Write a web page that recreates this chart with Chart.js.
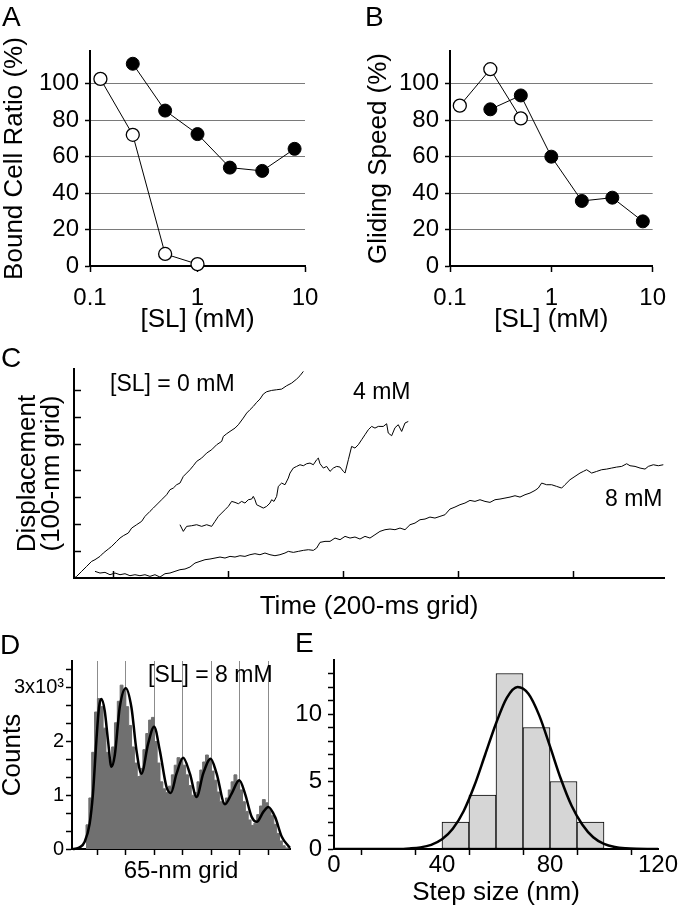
<!DOCTYPE html>
<html>
<head>
<meta charset="utf-8">
<script src="https://cdn.jsdelivr.net/npm/chart.js"></script>
<style>
body { margin: 0; background: #fff; }
#fig { position: relative; width: 680px; height: 913px; overflow: hidden; font-family: "Liberation Sans", Arial, sans-serif; }
#fig canvas { position: absolute; }
.lab { position: absolute; font-size: 28px; line-height: 28px; color: #000; }
</style>
</head>
<body>
<div id="fig">
  <canvas id="chartA" width="340" height="340" style="left:0;top:0"></canvas>
  <canvas id="chartB" width="340" height="340" style="left:340px;top:0"></canvas>
  <canvas id="chartC" width="680" height="280" style="left:0;top:340px"></canvas>
  <canvas id="chartD" width="300" height="293" style="left:0;top:620px"></canvas>
  <canvas id="chartE" width="390" height="293" style="left:290px;top:620px"></canvas>
  <div class="lab" style="left:2px;top:3px">A</div>
  <div class="lab" style="left:365px;top:3px">B</div>
  <div class="lab" style="left:1px;top:344px">C</div>
  <div class="lab" style="left:0;top:631px">D</div>
  <div class="lab" style="left:295px;top:629px">E</div>
</div>
<script>
// --- data ---

// A / B : [SL] in mM
var slOpen = [0.125, 0.25, 0.5, 1]
var boundOpen = [102.7, 72, 6.6, 1]
var slFull = [0.25, 0.5, 1, 2, 4, 8]
var boundFull = [111, 85.3, 72.4, 54, 52.2, 64.3]

var slOpenB = [0.125, 0.25, 0.5]
var speedOpen = [88, 108, 81]
var speedFull = [86, 93.6, 60, 35.7, 37.5, 24.5]

var doseTicks = [0.1, 1, 10]
var pctTicks = [0, 20, 40, 60, 80, 100]

// C : traces, time in ms, displacement in nm
var trace0X = [132, 136.3, 145, 153.7, 162.4, 168.2, 176.9, 182.7, 191.4, 197.2, 205.9, 211.7, 217.5, 226.1, 232, 240.6, 249.3, 255.1, 263.8, 269.6,
  278.3, 284.1, 292.8, 298.6, 304.4, 310.2, 316, 321.8, 327.6, 333.4, 339.2, 345, 353.7, 362.4, 371.1, 379.8, 388.5, 391.4, 397.2, 403,
  411.7, 417.5, 426.1, 432, 437.7, 443.5, 449.3, 455.1, 460.9, 466.7, 475.4, 484.1, 492.8, 501.5, 510.2, 518.9, 524.7, 530.5]
var trace0Y = [0, 6.1, 24.8, 43.4, 62.1, 68.3, 80.7, 93.2, 108.1, 118, 136.7, 149.1, 157.8, 167.8, 186.4, 198.9, 211.3, 229.9, 248.6, 261,
  279.7, 292.1, 310.8, 329.5, 335.7, 348.1, 354.3, 379.2, 391.6, 404.1, 419, 435.2, 447.6, 466.3, 478.7, 497.4, 509.8, 528.4, 538.4, 547.1,
  559.5, 572, 596.9, 615.5, 628, 640.4, 655.4, 667.7, 686.4, 695.1, 700.1, 702.6, 705, 717.5, 727.4, 742.4, 754.8, 771]

var trace4X = [316, 321.8, 327.6, 336.3, 345, 353.7, 362.4, 371.1, 376.9, 382.7, 388.5, 394.3, 400.1, 405.9, 411.7, 417.5, 423.2, 429, 434.8, 440.6,
  443.5, 446.4, 449.3, 455.1, 460.9, 466.7, 472.5, 475.4, 479.5, 484.1, 487, 492.8, 498.6, 504.4, 507.3, 513.1, 518.9, 524.7, 530.5, 536.3,
  542.1, 547.9, 553.7, 556.6, 559.5, 565.3, 571.1, 576.9, 582.7, 588.5, 594.3, 600.1, 603, 608.8, 614.5, 620.3, 626.1, 631.9, 637.7, 643.5,
  649.3, 655.1, 660.9, 669.5, 675.4, 678.2, 684.1, 689.9, 695.6, 701.5, 707.3, 713]
var trace4Y = [198.9, 174, 192.7, 195.1, 198.9, 192.7, 198.9, 192.7, 211.3, 229.9, 242.4, 254.8, 267.3, 285.9, 282.2, 277.2, 285.9, 279.7, 292.1, 294.6,
  304.6, 292.1, 273.5, 267.3, 261, 267.3, 279.7, 292.1, 285.9, 304.6, 341.9, 354.3, 348.1, 373, 391.6, 410.3, 416.5, 422.7, 419, 426.5,
  428.9, 422.7, 441.4, 447.6, 426.5, 410.3, 416.5, 397.9, 410.3, 416.5, 414, 397.9, 391.6, 441.4, 491.1, 484.9, 497.4, 516, 534.7, 553.3,
  565.8, 559.5, 565.8, 565.6, 575.7, 541, 530.9, 560.8, 572, 547, 578.3, 584.3]

var trace8X = [168.2, 176.9, 185.6, 194.3, 203, 211.7, 220.4, 229, 237.7, 246.4, 255.1, 263.8, 272.5, 281.2, 289.9, 298.6, 307.3, 316, 324.7, 333.4,
  342.1, 350.8, 359.5, 368.2, 376.9, 385.6, 394.3, 403, 411.7, 420.3, 429, 437.7, 446.4, 455.1, 463.8, 472.5, 481.2, 489.9, 498.6, 504.4,
  513.1, 521.8, 530.5, 539.2, 547.9, 553.7, 559.5, 568.2, 576.9, 585.6, 594.3, 603, 611.7, 620.3, 629, 637.7,
  646.4, 655.1, 663.8, 672.5, 681.2, 689.9, 698.6, 707.3, 716, 724.7, 733.4, 742.1, 750.7, 759.4, 768.1, 776.8, 785.5, 794.2, 802.9, 811.6,
  820.3, 829, 837.7, 846.4, 855.1, 863.8, 872.5, 881.2, 889.9, 898.6, 907.3, 916, 924.7, 933.4, 939.1, 944.9, 953.6, 962.3, 971, 979.7,
  985.5, 994.2, 1002.9, 1011.6, 1017.4, 1023.2, 1031.9, 1040.6, 1049.3, 1058, 1066.7, 1075.4, 1084.1, 1092.8, 1098.6, 1107.3, 1116, 1124.7, 1130.4, 1139.1,
  1147.8, 1156.5]
var trace8Y = [24.8, 18.5, 21, 12.3, 18.5, 12.3, 16, 8.6, 12.3, 8.6, 12.3, 6.1, 12.3, 3.6, 16, 18.5, 24.8, 31, 33.5, 40.9,
  55.8, 62.1, 68.3, 70.8, 74.5, 78.2, 74.5, 80.7, 78.2, 83.2, 80.7, 86.9, 90.7, 86.9, 93.2, 86.9, 83.2, 86.9, 93.2, 99.4,
  95.6, 99.4, 103.1, 105.6, 103.1, 111.8, 132.9, 136.7, 136.7, 149.1, 142.9, 155.4, 149.1, 152.9, 145.4, 155.4,
  149.1, 161.5, 174, 180.2, 182.7, 180.2, 186.4, 180.2, 198.8, 205, 217.5, 220, 227.4, 223.7, 229.9, 236.1, 257.3, 264.7, 273.5, 279.7,
  289.6, 285.9, 292.1, 285.9, 282.2, 292.1, 294.6, 298.3, 302, 307, 302, 310.8, 317, 326.9, 335.6, 354.3, 348.1, 348.1, 341.9, 335.6,
  348.1, 366.7, 379.2, 391.6, 397.8, 404.1, 391.6, 397.8, 404.1, 406.5, 410.3, 414, 416.5, 426.4, 419, 416.5, 410.3, 406.5, 416.5, 422.7,
  419, 422.7]

var timeTicks = [200, 400, 600, 800, 1000]
var dispTicks = [100, 200, 300, 400, 500, 600, 700]

// D : position histogram (6.5-nm bins from 39 nm) and its fit
var histStart = 39
var histBin = 6.5
var histCounts = [150, 450, 950, 1800, 2550, 2800, 2650, 2250, 1800, 1650,
  1900, 2350, 2750, 3050, 2950, 2650, 2300, 1900, 1600, 1350,
  1500, 1850, 2150, 2400, 2450, 2000, 1600, 1250, 1120, 1050,
  1170, 1380, 1560, 1700, 1680, 1560, 1380, 1180, 1000, 1050,
  1250, 1470, 1620, 1750, 1650, 1450, 1280, 1060, 880, 860,
  950, 1100, 1250, 1380, 1280, 1100, 880, 700, 540, 440,
  480, 640, 800, 920, 860, 740, 620, 460, 290, 150,
  60, 20]
var fitX = [9, 24.5, 36, 47.4, 54.9, 62.7, 68.7, 74.2, 81.7, 89.3, 97, 104.6, 116, 129.8, 142.8, 154.3, 165.7, 180.8, 194.6, 207.6, 222.9, 232.8, 245.8, 260.9, 276.3, 291.6, 306.7, 323.7, 337.4, 356.4, 371.7, 389.1, 402.2, 417.5, 429, 444.1, 455.5, 470.8, 486.2, 501.3, 505]
var fitY = [0, 30, 135, 476, 1031, 2019, 2635, 2791, 2574, 2019, 1530, 1741, 2635, 2995, 2635, 1833, 1402, 1958, 2278, 1833, 1154, 1043, 1402, 1698, 1402, 969, 1402, 1680, 1402, 833, 1031, 1278, 1031, 598, 506, 691, 783, 598, 228, 56, 20]
var gridTicks = [65, 130, 195, 260, 325, 390, 455]
var countTicks = [0, 333.3, 666.7, 1000, 1333.3, 1666.7, 2000, 2333.3, 2666.7, 3000, 3333.3]

// E : step size histogram and gaussian fit
var stepCenters = [45, 55, 65, 75, 85, 95]
var stepCounts = [2, 4, 13, 9, 5, 2]
var gaussX = [0, 24, 28, 32, 36, 40, 44, 48, 52, 56, 60, 64, 68, 72, 76, 80, 84, 88, 92, 96, 100, 104, 108, 112, 116, 120]
var gaussY = [0, 0, 0.04, 0.12, 0.31, 0.72, 1.5, 2.8, 4.7, 7.0, 9.3, 11.2, 12.0, 11.5, 9.9, 7.6, 5.2, 3.2, 1.8, 0.87, 0.38, 0.15, 0.05, 0.01, 0, 0]
var stepTicks = [0, 20, 40, 60, 80, 100, 120]
var nTicks = [0, 1, 2, 3, 4, 5, 6, 7, 8, 9, 10, 11, 12, 13]

// --- helpers ---
Chart.defaults.font.family = '"Liberation Sans", Arial, sans-serif'
Chart.defaults.color = '#000'

function pts(xs, ys){
  return xs.map(function(x, i){ return {x: x, y: ys[i]} })
}
function setTicks(vals){
  return function(s){ s.ticks = vals.map(function(v){ return {value: v} }) }
}
function fixWidth(w){ return function(s){ s.width = w } }
function fixHeight(h){ return function(s){ s.height = h } }

// plain text notes drawn on top of a chart
var notesPlugin = {
  id: 'notes',
  afterDraw: function(chart, args, opts){
    var ctx = chart.ctx
    ;(opts.items || []).forEach(function(it){
      ctx.save()
      ctx.font = it.size + 'px "Liberation Sans", Arial, sans-serif'
      ctx.fillStyle = '#000'
      ctx.textBaseline = 'middle'
      ctx.textAlign = 'left'
      ctx.fillText(it.text, it.x, it.y)
      ctx.restore()
    })
  }
}

var noHover = {legend: {display: false}, tooltip: {enabled: false}}
var axisLine = {color: '#000', width: 2}

function dosePanel(id, yTitle, titlePad, axisW, rightPad, sets){
  return new Chart(document.getElementById(id), {
    type: 'line',
    data: {datasets: sets},
    options: {
      responsive: false,
      animation: false,
      layout: {padding: {top: 51, right: rightPad, left: 0, bottom: 0}},
      plugins: noHover,
      scales: {
        x: {
          type: 'logarithmic', min: 0.1, max: 10,
          afterBuildTicks: setTicks(doseTicks), afterFit: fixHeight(74),
          border: axisLine,
          grid: {drawOnChartArea: false, tickLength: 6, tickColor: '#000', tickWidth: 1.5},
          ticks: {font: {size: 24, lineHeight: 1}, padding: 14, autoSkip: false, maxRotation: 0,
            callback: function(v){ return String(v) }},
          title: {display: true, text: '[SL] (mM)', font: {size: 26, lineHeight: 1}, padding: {top: 0, bottom: 7}}
        },
        y: {
          min: 0, max: 118,
          afterBuildTicks: setTicks(pctTicks), afterFit: fixWidth(axisW),
          border: axisLine,
          grid: {
            color: function(c){ return c.tick && c.tick.value === 0 ? 'rgba(0,0,0,0)' : '#7a7a7a' },
            lineWidth: 1, tickLength: 5, tickColor: '#000', tickWidth: 1.5
          },
          ticks: {font: {size: 24}, padding: 6, autoSkip: false},
          title: {display: true, text: yTitle, font: {size: 26, lineHeight: 1}, padding: {top: titlePad, bottom: 0}}
        }
      }
    }
  })
}

function openSet(xs, ys){
  return {data: pts(xs, ys), borderColor: '#000', borderWidth: 1, pointRadius: 6.5,
    pointBackgroundColor: '#fff', pointBorderColor: '#000', pointBorderWidth: 1.3, clip: false}
}
function fullSet(xs, ys){
  return {data: pts(xs, ys), borderColor: '#000', borderWidth: 1, pointRadius: 6.5,
    pointBackgroundColor: '#000', pointBorderColor: '#000', pointBorderWidth: 1, clip: false}
}

// A
dosePanel('chartA', 'Bound Cell Ratio (%)', 2, 90, 35,
  [fullSet(slFull, boundFull), openSet(slOpen, boundOpen)])

// B
dosePanel('chartB', 'Gliding Speed (%)', 26, 110, 15,
  [fullSet(slFull, speedFull), openSet(slOpenB, speedOpen)])

// C
function traceSet(xs, ys){
  return {data: pts(xs, ys), borderColor: '#000', borderWidth: 1, pointRadius: 0, fill: false}
}
new Chart(document.getElementById('chartC'), {
  type: 'line',
  data: {datasets: [traceSet(trace0X, trace0Y), traceSet(trace4X, trace4Y), traceSet(trace8X, trace8Y)]},
  plugins: [notesPlugin],
  options: {
    responsive: false,
    animation: false,
    layout: {padding: {top: 29, right: 16, left: 0, bottom: 0}},
    plugins: {
      legend: {display: false}, tooltip: {enabled: false},
      notes: {items: [
        {text: '[SL] = 0 mM', x: 110, y: 45, size: 23},
        {text: '4 mM', x: 353, y: 53, size: 23},
        {text: '8 mM', x: 605, y: 160, size: 23}
      ]}
    },
    scales: {
      x: {
        type: 'linear', min: 131.7, max: 1157.7,
        afterBuildTicks: setTicks(timeTicks), afterFit: fixHeight(42),
        border: axisLine,
        grid: {drawOnChartArea: false, tickLength: -7, tickColor: '#000', tickWidth: 1.5},
        ticks: {display: false},
        title: {display: true, text: 'Time (200-ms grid)', font: {size: 26, lineHeight: 1}, padding: {top: 0, bottom: 0}}
      },
      y: {
        min: 0, max: 780,
        afterBuildTicks: setTicks(dispTicks), afterFit: fixWidth(74),
        border: axisLine,
        grid: {drawOnChartArea: false, tickLength: -7, tickColor: '#000', tickWidth: 1.5},
        ticks: {display: false},
        title: {display: true, text: ['Displacement', '(100-nm grid)'], font: {size: 26, lineHeight: 0.923}, padding: {top: 16, bottom: 0}}
      }
    }
  }
})

// D
var histPts = histCounts.map(function(c, i){ return {x: histStart + i * histBin, y: c} })
histPts.push({x: histStart + histCounts.length * histBin, y: 0})

new Chart(document.getElementById('chartD'), {
  type: 'line',
  data: {datasets: [
    {data: pts(fitX, fitY), borderColor: '#000', borderWidth: 2.5, pointRadius: 0,
      cubicInterpolationMode: 'monotone', fill: false, clip: false},
    {data: histPts, stepped: 'after', fill: 'origin', backgroundColor: '#707070',
      borderColor: '#707070', borderWidth: 1, pointRadius: 0}
  ]},
  plugins: [notesPlugin],
  options: {
    responsive: false,
    animation: false,
    layout: {padding: {top: 41, right: 10, left: 0, bottom: 0}},
    plugins: {
      legend: {display: false}, tooltip: {enabled: false},
      notes: {items: [{text: '[SL] = 8 mM', x: 148, y: 56, size: 23}]}
    },
    scales: {
      x: {
        type: 'linear', min: 7, max: 505,
        afterBuildTicks: setTicks(gridTicks), afterFit: fixHeight(64),
        border: axisLine,
        grid: {drawOnChartArea: true, color: '#8c8c8c', lineWidth: 1, tickLength: 6, tickColor: '#000', tickWidth: 1.5},
        ticks: {display: false},
        title: {display: true, text: '65-nm grid', font: {size: 24, lineHeight: 1}, padding: {top: 0, bottom: 30}}
      },
      y: {
        min: 0, max: 3500,
        afterBuildTicks: setTicks(countTicks), afterFit: fixWidth(72),
        border: axisLine,
        grid: {drawOnChartArea: false, tickLength: 6, tickColor: '#000', tickWidth: 1.5},
        ticks: {font: {size: 20}, padding: 2, autoSkip: false,
          callback: function(v){
            if (v === 3000) return '3x10\u00b3'
            if (v === 0 || v === 1000 || v === 2000) return String(v / 1000)
            return ''
          }},
        title: {display: true, text: 'Counts', font: {size: 26, lineHeight: 1}, padding: {top: 0, bottom: 0}}
      }
    }
  }
})

// E
new Chart(document.getElementById('chartE'), {
  type: 'bar',
  data: {datasets: [
    {type: 'line', data: pts(gaussX, gaussY), borderColor: '#000', borderWidth: 2.5, pointRadius: 0,
      cubicInterpolationMode: 'monotone', fill: false, order: 0},
    {data: pts(stepCenters, stepCounts), backgroundColor: '#d6d6d6', borderColor: '#000', borderWidth: 1,
      borderSkipped: false, categoryPercentage: 1, barPercentage: 1, order: 1}
  ]},
  options: {
    responsive: false,
    animation: false,
    layout: {padding: {top: 40, right: 22, left: 0, bottom: 0}},
    plugins: noHover,
    scales: {
      x: {
        type: 'linear', min: 0, max: 120, offset: false,
        afterBuildTicks: setTicks(stepTicks), afterFit: fixHeight(64),
        border: axisLine,
        grid: {drawOnChartArea: false, tickLength: 6, tickColor: '#000', tickWidth: 1.5},
        ticks: {font: {size: 24, lineHeight: 1}, padding: -2, autoSkip: false, maxRotation: 0,
          callback: function(v){ return v % 40 === 0 ? String(v) : '' }},
        title: {display: true, text: 'Step size (nm)', font: {size: 26, lineHeight: 1}, padding: {top: 0, bottom: 7}}
      },
      y: {
        min: 0, max: 14,
        afterBuildTicks: setTicks(nTicks), afterFit: fixWidth(44),
        border: axisLine,
        grid: {drawOnChartArea: false, tickLength: 6, tickColor: '#000', tickWidth: 1.5},
        ticks: {font: {size: 24}, padding: 6, autoSkip: false,
          callback: function(v){ return v % 5 === 0 ? String(v) : '' }}
      }
    }
  }
})
</script>
</body>
</html>
